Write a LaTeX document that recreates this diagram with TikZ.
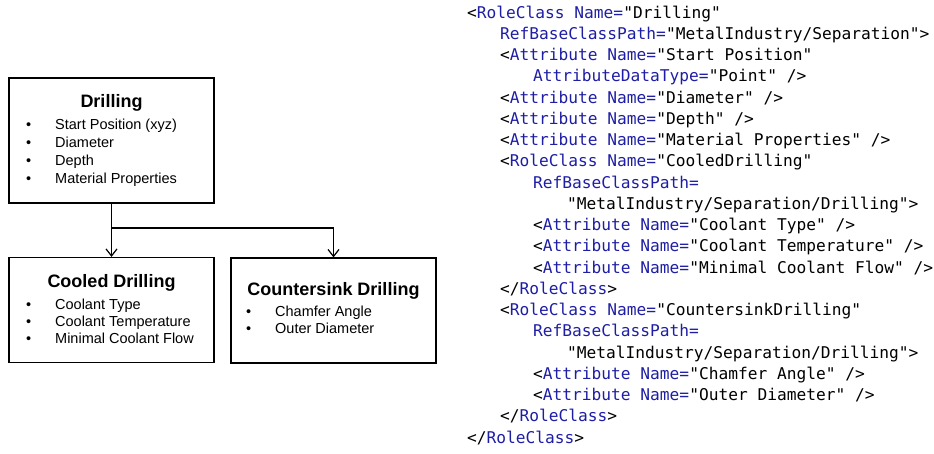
\documentclass[tikz,border=0pt]{standalone}
\usepackage{fontspec}
\setmainfont{Liberation Sans}
\newfontfamily\codefont{DejaVu Sans Mono}
\usetikzlibrary{arrows.meta}
\definecolor{xmlblue}{RGB}{30,30,165}
\newcommand{\xb}[1]{\textcolor{xmlblue}{#1}}
\newcommand{\bul}[1]{\makebox[29pt][l]{\textbullet}#1}
\tikzset{
  classbox/.style={draw, line width=1.2pt, minimum width=205pt, inner sep=0pt},
  classtitle/.style={font=\fontsize{18}{20}\selectfont\bfseries, inner sep=0pt},
  attrlist/.style={font=\fontsize{14.5}{18}\selectfont, align=left, anchor=north west, inner sep=0pt},
  codeline/.style={font=\codefont\fontsize{16.2}{18}\selectfont, anchor=base west, inner sep=0pt},
  conn/.style={line width=1.2pt, ->, >={Straight Barb[length=7pt,width=11pt]}}
}
\begin{document}
\begin{tikzpicture}[x=1pt,y=-1pt]
\useasboundingbox (0,0) rectangle (934,453);
% class boxes
\node[classbox, minimum height=125pt] (drill) at (111.5,140.5) {};
\node[classbox, minimum height=105pt] (cool) at (111.5,310) {};
\node[classbox, minimum height=105pt] (sink) at (333.5,310.5) {};
\node[classtitle] (drillT) at (111.5,103) {Drilling};
\node[classtitle] (coolT) at (111.5,283) {Cooled Drilling};
\node[classtitle] (sinkT) at (333.5,291) {Countersink Drilling};
\node[attrlist] (drillA) at (26,118.5) {\bul{Start Position (xyz)}\\ \bul{Diameter}\\ \bul{Depth}\\ \bul{Material Properties}};
\node[attrlist, font=\fontsize{14.5}{17}\selectfont] (coolA) at (26,299) {\bul{Coolant Type}\\ \bul{Coolant Temperature}\\ \bul{Minimal Coolant Flow}};
\node[attrlist, font=\fontsize{14.5}{17}\selectfont] (sinkA) at (246,306) {\bul{Chamfer Angle}\\ \bul{Outer Diameter}};
% connectors
\coordinate (split) at (111.5,228);
\draw[conn] (drill.south) -- (cool.north);
\draw[conn] (split) -| (sink.north);
% xml listing
\node[codeline] (l1) at (467,18) {<\xb{RoleClass Name=}"Drilling"};
\node[codeline] (l2) at (500,39.25) {\xb{RefBaseClassPath=}"MetalIndustry/Separation">};
\node[codeline] (l3) at (500,60.5) {<\xb{Attribute Name=}"Start Position"};
\node[codeline] (l4) at (533,81.75) {\xb{AttributeDataType=}"Point" />};
\node[codeline] (l5) at (500,103) {<\xb{Attribute Name=}"Diameter" />};
\node[codeline] (l6) at (500,124.25) {<\xb{Attribute Name=}"Depth" />};
\node[codeline] (l7) at (500,145.5) {<\xb{Attribute Name=}"Material Properties" />};
\node[codeline] (l8) at (500,166.75) {<\xb{RoleClass Name=}"CooledDrilling"};
\node[codeline] (l9) at (533,188) {\xb{RefBaseClassPath=}};
\node[codeline] (l10) at (567,209.25) {"MetalIndustry/Separation/Drilling">};
\node[codeline] (l11) at (533,230.5) {<\xb{Attribute Name=}"Coolant Type" />};
\node[codeline] (l12) at (533,251.75) {<\xb{Attribute Name=}"Coolant Temperature" />};
\node[codeline] (l13) at (533,273) {<\xb{Attribute Name=}"Minimal Coolant Flow" />};
\node[codeline] (l14) at (500,294.25) {</\xb{RoleClass}>};
\node[codeline] (l15) at (500,315.5) {<\xb{RoleClass Name=}"CountersinkDrilling"};
\node[codeline] (l16) at (533,336.75) {\xb{RefBaseClassPath=}};
\node[codeline] (l17) at (567,358) {"MetalIndustry/Separation/Drilling">};
\node[codeline] (l18) at (533,379.25) {<\xb{Attribute Name=}"Chamfer Angle" />};
\node[codeline] (l19) at (533,400.5) {<\xb{Attribute Name=}"Outer Diameter" />};
\node[codeline] (l20) at (500,421.75) {</\xb{RoleClass}>};
\node[codeline] (l21) at (467,443) {</\xb{RoleClass}>};
\end{tikzpicture}
\end{document}
